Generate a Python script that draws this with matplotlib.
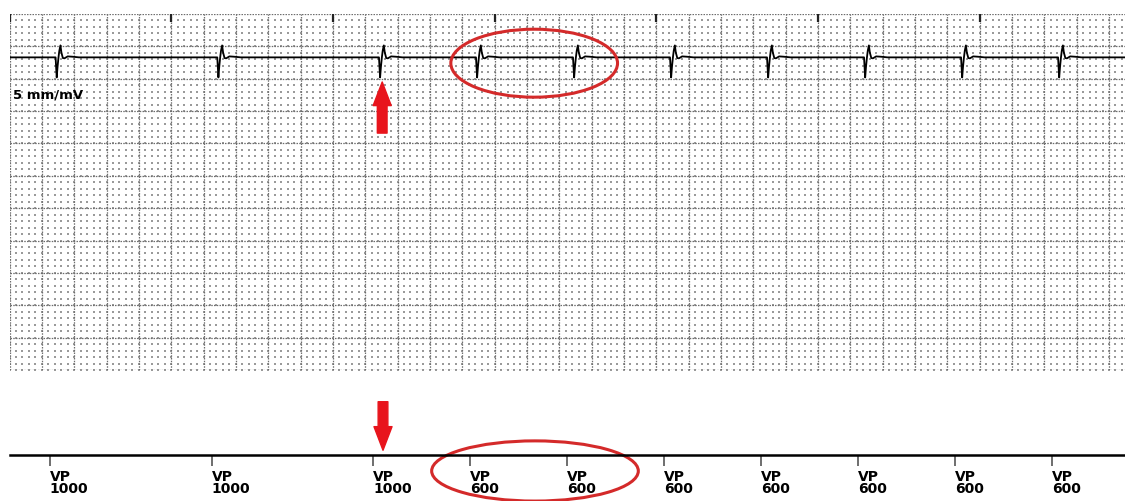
import numpy as np
import matplotlib.pyplot as plt
from matplotlib.patches import Ellipse

# paced beats: marker times (ms from strip start) and the interval printed under each
pace_times = [250, 1250, 2250, 2850, 3450, 4050, 4650, 5250, 5850, 6450]
pace_intervals = [1000, 1000, 1000, 600, 600, 600, 600, 600, 600, 600]
pace_label = 'VP'

# one paced complex: ms after the marker, amplitude in mV
beat_offsets = [0, 35, 42, 47, 53, 58, 65, 71, 80, 90, 110, 140, 180]
beat_mv = [0, 0, -0.62, -0.3, 0.0, 0.2, 0.37, 0.15, -0.02, -0.03, 0.03, 0.02, 0]

strip_ms = 6899      # visible length of the strip
strip_mm = 55        # paper height
baseline_mm = 48.3   # isoelectric line
gain = 5             # mm/mV

W, H = 1125, 501
fig = plt.figure(figsize=(W / 100, H / 100), dpi=100)

# ---- ECG paper + trace
ax = fig.add_axes([9.5 / W, (H - 370) / H, (W - 9.5) / W, 356 / H])
ax.set_xlim(0, strip_ms)
ax.set_ylim(0, strip_mm)
ax.axis('off')

# small squares (40 ms x 1 mm) as dots
mx, my = np.meshgrid(np.arange(0, strip_ms, 40), np.arange(0, strip_mm, 1))
ax.scatter(mx.ravel(), my.ravel(), s=0.6, marker='s', color='#9a9a9a', lw=0, zorder=1)
# big squares (200 ms x 5 mm) as dotted lines
ax.vlines(np.arange(0, strip_ms, 200), 0, strip_mm, color='#6e6e6e', lw=0.9,
          linestyle=(0, (1.2, 1.0)), zorder=2)
ax.hlines(np.arange(0, strip_mm + 1, 5), 0, strip_ms, color='#6e6e6e', lw=0.9,
          linestyle=(0, (1.2, 1.0)), zorder=2)
# one-second marks at the top edge
ax.vlines(np.arange(0, strip_ms, 1000), strip_mm - 1.3, strip_mm, color='#222222', lw=1.6, zorder=3)

# trace: flat baseline with the complex placed at every marker
tx, ty = [0], [baseline_mm]
for p in pace_times:
    for o, v in zip(beat_offsets, beat_mv):
        tx.append(p + o)
        ty.append(baseline_mm + gain * v)
tx.append(strip_ms)
ty.append(baseline_mm)
ax.plot(tx, ty, color='black', lw=1.3, zorder=4)

ax.text(0.003, 0.792, '5 mm/mV', transform=ax.transAxes, fontsize=9.5,
        fontweight='bold', va='top', zorder=5)

# red highlights
red = '#d42a2a'
ax.add_patch(Ellipse((3245, 47.4), 1031, 10.5, fill=False, ec=red, lw=2.2, clip_on=False, zorder=6))
ax.add_patch(Ellipse((3250, -15.6), 1278, 9.3, fill=False, ec=red, lw=2.2, clip_on=False, zorder=6))
arrow = dict(arrowstyle='simple,head_length=1.7,head_width=1.3,tail_width=0.7',
             color='#e8141c', shrinkA=0, shrinkB=0, mutation_scale=10)
ax.annotate('', xy=(2305, 44.5), xytext=(2305, 36.6), arrowprops=arrow, annotation_clip=False)
ax.annotate('', xy=(2310, -12.4), xytext=(2310, -4.9), arrowprops=arrow, annotation_clip=False)

# ---- marker channel
ax2 = fig.add_axes([9.5 / W, (H - 455) / H, (W - 9.5) / W, 0.05])
ax2.set_xlim(0, strip_ms)
ax2.patch.set_visible(False)
for s in ['top', 'left', 'right']:
    ax2.spines[s].set_visible(False)
ax2.spines['bottom'].set_linewidth(1.8)
ax2.spines['bottom'].set_color('black')
ax2.set_yticks([])
ax2.set_xticks(pace_times)
ax2.set_xticklabels(['%s\n%d' % (pace_label, v) for v in pace_intervals],
                    fontsize=10, fontweight='bold', ha='left', linespacing=0.8)
ax2.tick_params(axis='x', length=8, width=1.2, color='#555555', pad=3)

fig.savefig('out.png', dpi=100)
